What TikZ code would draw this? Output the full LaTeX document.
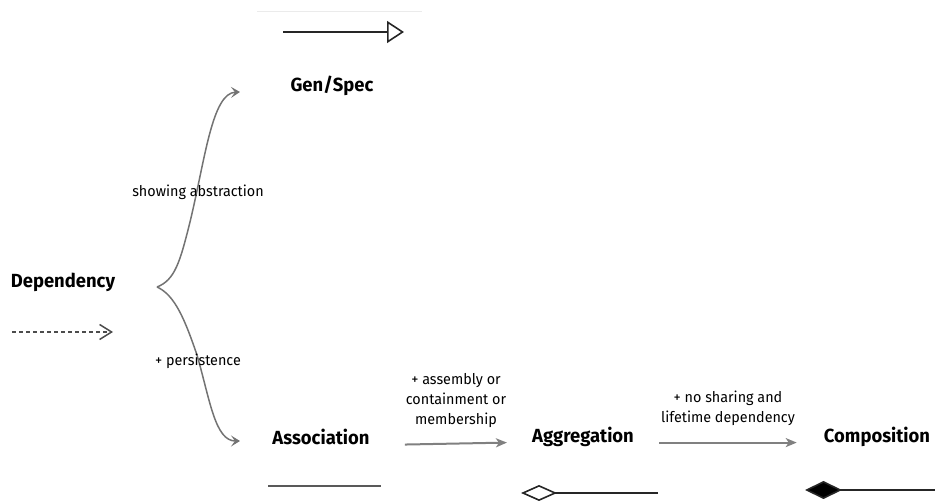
\documentclass[tikz,border=0pt]{standalone}
\usepackage{fontspec}
\setmainfont{Fira Sans}[FakeStretch=0.97]
\usetikzlibrary{arrows.meta}

\begin{document}
\begin{tikzpicture}[x=1pt, y=-1pt,
		kind/.style={font=\fontsize{19}{22}\selectfont\bfseries, inner sep=0pt},
		note/.style={font=\fontsize{14.8}{20}\selectfont, align=center, inner sep=0pt},
		brace/.style={draw=black!55, line width=1.5pt, -{Stealth[length=9pt, width=11pt, inset=4pt]}},
		refine/.style={draw=black!50, line width=2pt, -{Stealth[length=11pt, width=9pt, inset=3pt]}},
		symline/.style={line width=1.6pt}
		]
		\useasboundingbox (0,0) rectangle (935,502);

		% faint rule at the top
		\draw [black!8, line width=0.8pt] (257,11) -- (422,11);

		% relation kinds
		\node [kind] (dep) at (63,282) {Dependency};
		\node [kind] (gen) at (332,86) {Gen/Spec};
		\node [kind] (assoc) at (321,437) {Association};
		\node [kind] (aggr) at (583,437) {Aggregation};
		\node [kind] (comp) at (877,437) {Composition};

		% notation under each kind
		\coordinate (depA) at (12,332);
		\coordinate (depB) at (113,332);
		\draw [black!70, line width=1.2pt, dash pattern=on 4pt off 3pt, -{Straight Barb[length=12pt, width=15pt, line width=1.5pt]}] (depA) -- (depB);

		\coordinate (genA) at (283,32);
		\coordinate (genB) at (404,32);
		\draw [black!85, symline, -{Triangle[open, length=17pt, width=22pt]}] (genA) -- (genB);

		\coordinate (assocA) at (268,486);
		\coordinate (assocB) at (381,486);
		\draw [black!65, symline] (assocA) -- (assocB);

		\coordinate (aggrA) at (658,493);
		\coordinate (aggrB) at (521,493);
		\draw [black!85, symline, -{Diamond[open, length=36pt, width=16pt]}] (aggrA) -- (aggrB);

		\coordinate (compA) at (935,490);
		\coordinate (compB) at (805,490);
		\draw [black!85, symline, -{Diamond[fill=black, length=37pt, width=18pt]}] (compA) -- (compB);

		% the fork out of Dependency
		\coordinate (fork) at (157,287);
		\coordinate (upEnd) at (240,92);
		\coordinate (lowEnd) at (240,441);
		\draw [brace] (fork) .. controls (175,280) and (180,262) .. (190,222)
			.. controls (205,160) and (212,93) .. (upEnd);
		\draw [brace] (fork) .. controls (175,295) and (185,320) .. (197,355)
			.. controls (210,400) and (215,441) .. (lowEnd);
		\node [note] (abs) at (198,192) {showing abstraction};
		\node [note] (pers) at (198,361) {+ persistence};

		% steps along the bottom row
		\draw [refine] ([xshift=35pt]assoc.base east) -- ([xshift=-25pt]aggr.base west);
		\draw [refine] ([xshift=25pt]aggr.base east) -- ([xshift=-27pt]comp.base west);
		\node [note] (toAggr) at (456,401) {+ assembly or\\containment or\\membership};
		\node [note] (toComp) at (728,408) {+ no sharing and\\lifetime dependency};
\end{tikzpicture}
\end{document}
